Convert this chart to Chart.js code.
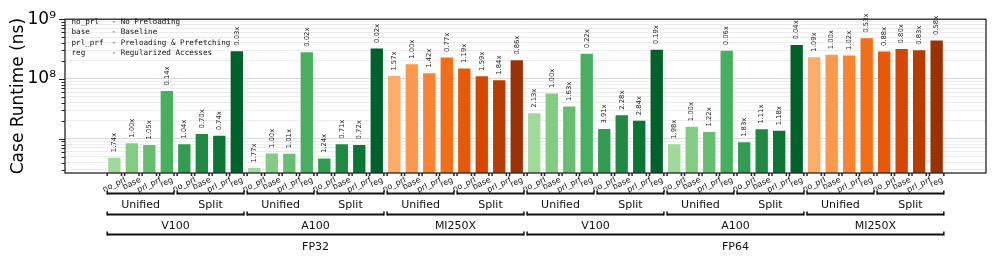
<!DOCTYPE html>
<html>
<head>
<meta charset="utf-8">
<script src="https://cdn.jsdelivr.net/npm/chart.js@4.4.1/dist/chart.umd.min.js"></script>
<style>
  html, body { margin: 0; padding: 0; background: #fff; }
  #wrap { width: 996px; height: 263px; }
</style>
</head>
<body>
<div id="wrap"><canvas id="chart"></canvas></div>
<script>
// Group labels (bars are ordered precision > gpu > layout > variant)
const variants = ['no_prl', 'base', 'prl_prf', 'reg'];
const layouts = ['Unified', 'Split'];
const gpus = ['V100', 'A100', 'MI250X'];
const precisions = ['FP32', 'FP64'];

// Case runtimes in ns
const runtimesFP32 = [
  5.01e6, 8.70e6, 8.19e6, 6.53e7,   8.38e6, 1.25e7, 1.16e7, 3.02e8,   // V100
  3.35e6, 5.89e6, 5.83e6, 2.91e8,   4.83e6, 8.38e6, 8.19e6, 3.35e8,   // A100
  1.16e8, 1.83e8, 1.29e8, 2.38e8,   1.56e8, 1.15e8, 9.89e7, 2.13e8    // MI250X
];
const runtimesFP64 = [
  2.77e7, 5.96e7, 3.61e7, 2.74e8,   1.51e7, 2.57e7, 2.07e7, 3.19e8,   // V100
  8.38e6, 1.65e7, 1.35e7, 3.07e8,   9.03e6, 1.50e7, 1.41e7, 3.85e8,   // A100
  2.41e8, 2.64e8, 2.57e8, 5.01e8,   2.99e8, 3.31e8, 3.14e8, 4.58e8    // MI250X
];

// Speedup labels printed above the bars (vs. Unified base)
const speedupsFP32 = [
  '1.74x', '1.00x', '1.05x', '0.14x',  '1.04x', '0.70x', '0.74x', '0.03x',
  '1.77x', '1.00x', '1.01x', '0.02x',  '1.24x', '0.71x', '0.72x', '0.02x',
  '1.57x', '1.00x', '1.42x', '0.77x',  '1.19x', '1.59x', '1.84x', '0.86x'
];
const speedupsFP64 = [
  '2.13x', '1.00x', '1.63x', '0.22x',  '3.91x', '2.28x', '2.84x', '0.19x',
  '1.98x', '1.00x', '1.22x', '0.06x',  '1.83x', '1.11x', '1.18x', '0.04x',
  '1.09x', '1.00x', '1.02x', '0.53x',  '0.88x', '0.80x', '0.83x', '0.58x'
];

// Log axis range and tick positions
const yMin = 2.67e6;
const yMax = 1e9;
const tickDecades = [1e6, 1e7, 1e8];
const tickMantissas = [1, 2, 3, 4, 5, 6, 7, 8, 9];

// Colour ramps (Unified 4 shades, then Split 4 shades)
const greens = ['#a0d99a', '#84cb83', '#67be70', '#48ae60', '#339c52', '#208943', '#0b7634', '#00612b'];
const oranges = ['#fdad69', '#fd994d', '#fa8432', '#f36e19', '#e6590b', '#d54701', '#b63c02', '#9b3203'];

const legendLines = [
  ['no_prl', 'No Preloading'],
  ['base', 'Baseline'],
  ['prl_prf', 'Preloading & Prefetching'],
  ['reg', 'Regularized Accesses']
];

const runtimes = runtimesFP32.concat(runtimesFP64);
const speedups = speedupsFP32.concat(speedupsFP64);
const perGpu = layouts.length * variants.length;
const perPrec = gpus.length * perGpu;

const barColors = runtimes.map((v, i) => {
  const gpu = gpus[Math.floor(i / perGpu) % gpus.length];
  const ramp = gpu === 'MI250X' ? oranges : greens;
  return ramp[i % perGpu];
});

const yTickValues = [];
tickDecades.forEach(d => tickMantissas.forEach(m => {
  const v = m * d;
  if (v >= yMin) yTickValues.push(v);
}));
yTickValues.push(yMax);

const FONT = "'DejaVu Sans', sans-serif";
const MONO = "'DejaVu Sans Mono', monospace";

// Everything that matplotlib draws around the bars
const decorPlugin = {
  id: 'decor',
  beforeDraw(chart) {
    const ctx = chart.ctx;
    ctx.save();
    ctx.fillStyle = '#fff';
    ctx.fillRect(0, 0, chart.width, chart.height);
    ctx.restore();
  },
  afterDatasetsDraw(chart) {
    const ctx = chart.ctx;
    const meta = chart.getDatasetMeta(0);
    ctx.save();
    ctx.fillStyle = '#222';
    ctx.font = '6.8px ' + FONT;
    ctx.textAlign = 'left';
    ctx.textBaseline = 'middle';
    meta.data.forEach((bar, i) => {
      ctx.save();
      ctx.translate(bar.x, bar.y - 4.5);
      ctx.rotate(-Math.PI / 2);
      ctx.fillText(speedups[i], 0, 0);
      ctx.restore();
    });
    ctx.restore();
  },
  afterDraw(chart) {
    const ctx = chart.ctx;
    const area = chart.chartArea;
    const ys = chart.scales.y;
    const meta = chart.getDatasetMeta(0);
    ctx.save();

    // frame
    ctx.strokeStyle = '#262626';
    ctx.lineWidth = 1.3;
    ctx.strokeRect(area.left, area.top, area.right - area.left, area.bottom - area.top);

    // y ticks on the left
    ctx.lineWidth = 1;
    ctx.strokeStyle = '#222';
    yTickValues.forEach(v => {
      const py = Math.round(ys.getPixelForValue(v)) + 0.5;
      const major = Math.abs(Math.log10(v) % 1) < 1e-9;
      ctx.beginPath();
      ctx.moveTo(area.left - (major ? 6 : 3.5), py);
      ctx.lineTo(area.left, py);
      ctx.stroke();
    });

    // x ticks at bar edges
    ctx.lineWidth = 1.5;
    meta.data.forEach(bar => {
      const half = bar.width / 2;
      [bar.x - half, bar.x + half].forEach(px => {
        ctx.beginPath();
        ctx.moveTo(px, area.bottom);
        ctx.lineTo(px, area.bottom + 3);
        ctx.stroke();
      });
    });

    // variant labels, rotated
    ctx.fillStyle = '#111';
    ctx.font = '8px ' + FONT;
    ctx.textAlign = 'center';
    ctx.textBaseline = 'middle';
    const ang = 25 * Math.PI / 180;
    meta.data.forEach((bar, i) => {
      const label = variants[i % variants.length];
      const w = ctx.measureText(label).width;
      const h = w * Math.sin(ang) + 8 * Math.cos(ang);
      ctx.save();
      ctx.translate(bar.x, area.bottom + 3 + h / 2);
      ctx.rotate(-ang);
      ctx.fillText(label, 0, 0);
      ctx.restore();
    });

    // bracket levels: layout, gpu, precision
    const levels = [
      {size: variants.length, names: i => layouts[i % layouts.length], lineY: 193.5, textY: 205},
      {size: perGpu, names: i => gpus[i % gpus.length], lineY: 214.5, textY: 226.5},
      {size: perPrec, names: i => precisions[i], lineY: 234.5, textY: 247}
    ];
    ctx.font = '11px ' + FONT;
    ctx.strokeStyle = '#111';
    levels.forEach(lv => {
      const count = runtimes.length / lv.size;
      for (let g = 0; g < count; g++) {
        const first = meta.data[g * lv.size];
        const last = meta.data[g * lv.size + lv.size - 1];
        const x0 = first.x - first.width / 2;
        const x1 = last.x + last.width / 2;
        ctx.lineWidth = 1.8;
        ctx.beginPath();
        ctx.moveTo(x0, lv.lineY);
        ctx.lineTo(x1, lv.lineY);
        ctx.stroke();
        ctx.lineWidth = 1.5;
        [x0, x1].forEach(px => {
          ctx.beginPath();
          ctx.moveTo(px, lv.lineY - 3);
          ctx.lineTo(px, lv.lineY + 1);
          ctx.stroke();
        });
        ctx.fillText(lv.names(g), (x0 + x1) / 2, lv.textY);
      }
    });

    // legend text block
    ctx.font = '7.6px ' + MONO;
    ctx.textAlign = 'left';
    ctx.fillStyle = '#111';
    legendLines.forEach((row, i) => {
      const y = 22 + i * 10.4;
      ctx.fillText(row[0], 71.5, y);
      ctx.fillText('- ' + row[1], 111.5, y);
    });

    ctx.restore();
  }
};

new Chart(document.getElementById('chart'), {
  type: 'bar',
  data: {
    datasets: [{
      data: runtimes.map((v, i) => ({x: i, y: v})),
      backgroundColor: barColors,
      borderColor: 'rgba(255,255,255,0.35)',
      borderWidth: 1,
      categoryPercentage: 1,
      barPercentage: 0.82
    }]
  },
  options: {
    responsive: true,
    maintainAspectRatio: false,
    animation: false,
    devicePixelRatio: 1,
    layout: { padding: { top: 16, right: 10, bottom: 90, left: 0 } },
    plugins: {
      legend: { display: false },
      tooltip: { enabled: false }
    },
    scales: {
      x: {
        type: 'linear',
        display: false,
        offset: false,
        grid: { offset: false },
        bounds: 'data',
        min: -2.82,
        max: runtimes.length - 1 + 2.82
      },
      y: {
        type: 'logarithmic',
        min: yMin,
        max: yMax,
        afterFit: s => { s.width = 65; },
        afterBuildTicks: s => { s.ticks = yTickValues.map(v => ({value: v})); },
        border: { display: false },
        grid: {
          drawTicks: false,
          color: c => (c.tick && [1e7, 1e8, 1e9].includes(c.tick.value)) ? '#d9d9d9' : '#ececec',
          lineWidth: 1
        },
        ticks: {
          autoSkip: false,
          padding: 9,
          color: '#000',
          font: { family: FONT, size: 17 },
          callback: v => v === 1e9 ? '10\u2079' : (v === 1e8 ? '10\u2078' : '')
        },
        title: {
          display: true,
          text: 'Case Runtime (ns)',
          color: '#000',
          font: { family: FONT, size: 17 },
          padding: { top: 8, bottom: 0 }
        }
      }
    }
  },
  plugins: [decorPlugin]
});
</script>
</body>
</html>
